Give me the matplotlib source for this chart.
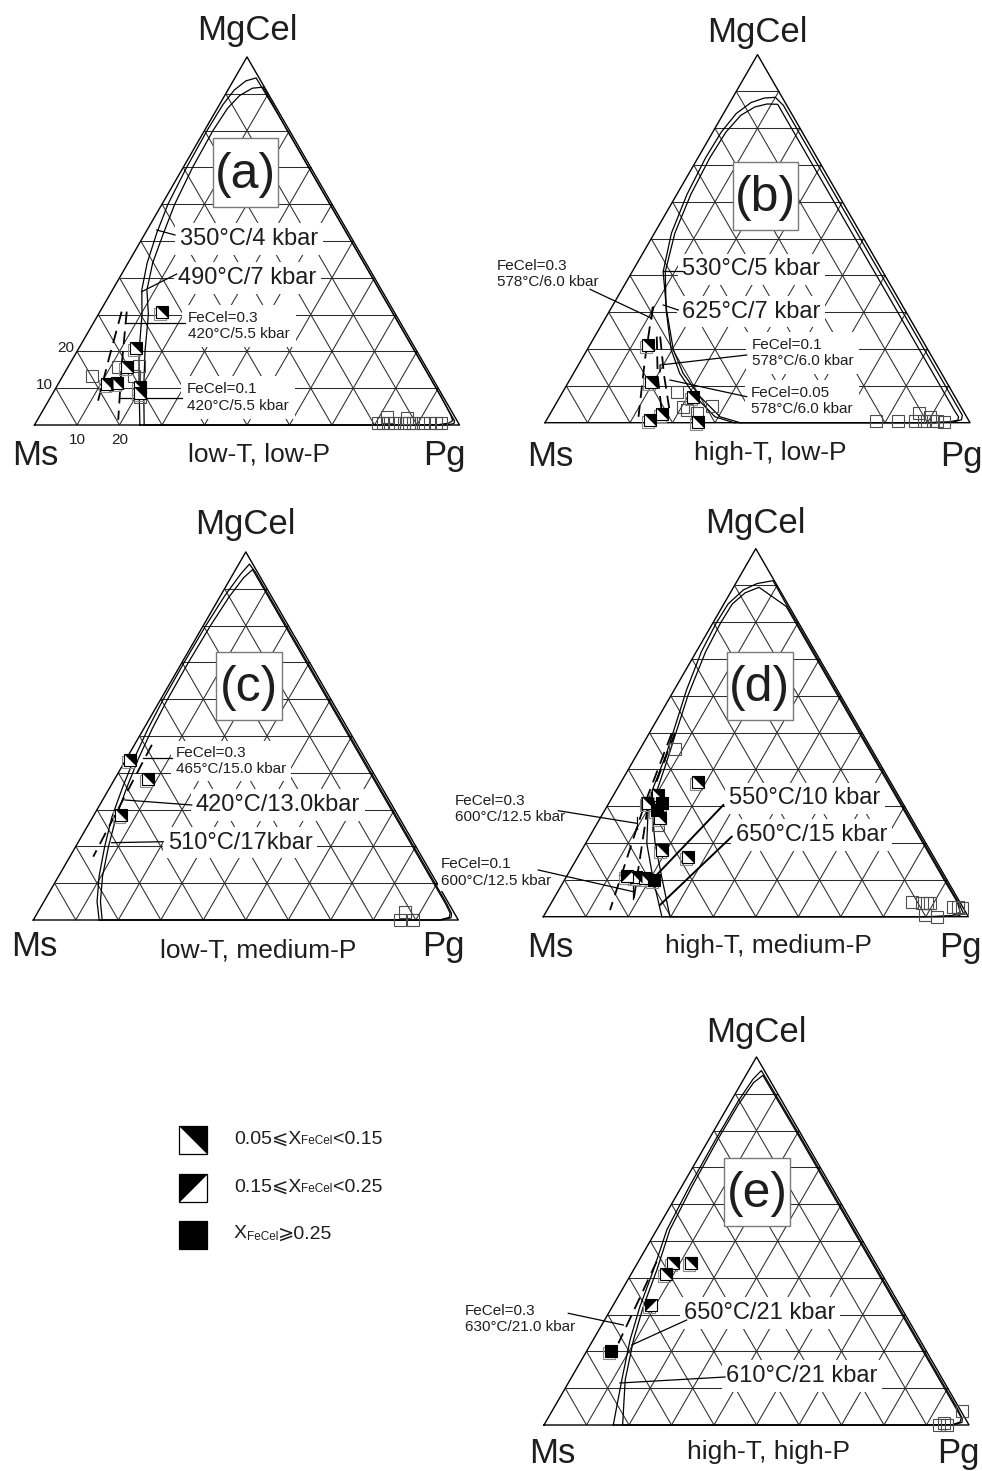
import numpy as np
import matplotlib
matplotlib.use("Agg")
import matplotlib.pyplot as plt
from matplotlib.transforms import Affine2D, offset_copy
from matplotlib.path import Path
from matplotlib.patches import Rectangle

plt.rcParams['font.family'] = ['Liberation Sans', 'DejaVu Sans']
INK = '#1e1e1e'

# ---------------------------------------------------------------------------
# Compositions are given as (Pg fraction, MgCel fraction); Ms = 1 - Pg - MgCel
# ---------------------------------------------------------------------------

# (a) low-T, low-P
a_sv1_pg = [.248, .196, .146, .103, .069, .045, .027, .014, .008, .006, .008, .015, .030, .050,
            .150, .350, .550, .750, .900, .962, .982, .985, .970, .920, .600, .248]
a_sv1_mg = [0, .10, .20, .30, .367, .44, .521, .60, .70, .80, .87, .91, .935, .943,
            .845, .645, .445, .245, .095, .032, .012, .004, 0, 0, 0, 0]
a_sv2_pg = [.258, .207, .160, .118, .081, .058, .043, .030, .022, .020, .024, .035, .055, .079,
            .180, .380, .580, .780, .920, .965, .978, .972, .950, .900, .258]
a_sv2_mg = [0, .10, .20, .30, .367, .44, .521, .60, .70, .80, .86, .895, .915, .918,
            .815, .615, .415, .215, .075, .028, .012, .005, .001, 0, 0]
a_fe03_pg = [.051, .085, .121]
a_fe03_mg = [.308, .180, .050]
a_fe01_pg = [.063, .125, .190]
a_fe01_mg = [.308, .160, .014]
a_t1_pg = [.145, .134, .138, .114, .137, .196, .205]
a_t1_mg = [.308, .210, .157, .111, .113, .104, .086]
a_open_pg = [.119, .165, .167, .068, .210, .805, .817, .829, .844, .868, .879, .887, .911, .927, .942, .954, .817, .867]
a_open_mg = [.157, .161, .134, .134, .077, .005, .005, .005, .005, .005, .005, .005, .005, .005, .005, .005, .023, .018]

# (b) high-T, low-P
b_sv1_pg = [.459, .404, .329, .258, .203, .133, .073, .040, .024, .018, .020, .030, .050, .075, .100, .130,
            .300, .500, .700, .880, .950, .972, .976, .960, .900, .459]
b_sv1_mg = [0, .016, .071, .134, .198, .306, .41, .515, .62, .72, .79, .84, .87, .882, .884, .862,
            .692, .492, .292, .112, .042, .020, .008, .002, 0, 0]
b_sv2_pg = [.445, .392, .318, .250, .198, .132, .078, .048, .033, .028, .031, .043, .065, .090, .115,
            .300, .500, .700, .880, .945, .965, .968, .950, .900, .445]
b_sv2_mg = [0, .016, .071, .134, .198, .306, .41, .515, .62, .72, .79, .835, .858, .866, .865,
            .680, .480, .280, .100, .035, .016, .007, .002, 0, 0]
b_fe03_pg = [.096, .150, .212]
b_fe03_mg = [.315, .170, .016]
b_fe01_pg = [.146, .200, .262]
b_fe01_mg = [.234, .130, .026]
b_fe005_pg = [.154, .215, .281]
b_fe005_mg = [.234, .130, .026]
b_t1_pg = [.136, .194, .243, .263, .313, .359]
b_t1_mg = [.211, .111, .007, .024, .071, .003]
b_open_pg = [.269, .304, .316, .369, .344, .776, .828, .867, .866, .890, .898, .910, .921, .937]
b_open_mg = [.084, .043, .035, .046, .026, .005, .005, .005, .026, .005, .016, .005, .005, .003]

# (c) low-T, medium-P
c_sv1_pg = [.155, .125, .095, .068, .045, .030, .018, .010, .006, .005, .006, .010, .018, .025,
            .050, .200, .400, .600, .800, .950, .975, .980, .960, .155]
c_sv1_mg = [0, .05, .12, .20, .28, .36, .44, .52, .60, .70, .80, .88, .94, .967,
            .945, .795, .595, .395, .195, .045, .018, .006, 0, 0]
c_sv2_pg = [.162, .133, .103, .077, .055, .040, .028, .020, .016, .015, .017, .022, .030, .040,
            .200, .400, .600, .800, .950, .972, .975, .955, .162]
c_sv2_mg = [0, .05, .12, .20, .28, .36, .44, .52, .60, .70, .80, .88, .93, .952,
            .792, .592, .392, .192, .042, .018, .007, 0, 0]
c_fe03_pg = [.041, .048, .055]
c_fe03_mg = [.476, .320, .172]
c_t1_pg = [.010, .078, .065]
c_t1_mg = [.435, .382, .285]
c_open_pg = [.863, .863, .894]
c_open_mg = [.0226, 0, 0]

# (d) high-T, medium-P
d_sv1_pg = [.279, .209, .144, .089, .068, .029, .012, .008, .010, .027, .050, .084,
            .150, .350, .550, .750, .900, .960, .984, .975, .930, .279]
d_sv1_mg = [0, .0997, .199, .317, .444, .616, .72, .80, .85, .888, .905, .913,
            .846, .646, .446, .246, .096, .036, .009, .002, 0, 0]
d_sv2_pg = [.298, .230, .163, .105, .080, .040, .022, .018, .020, .035, .060,
            .150, .350, .550, .750, .900, .955, .975, .960, .900, .298]
d_sv2_mg = [0, .10, .20, .30, .42, .60, .72, .80, .85, .88, .895,
            .843, .643, .443, .243, .093, .039, .012, .003, 0, 0]
d_fe03_pg = [.053, .085, .148]
d_fe03_mg = [.498, .308, .018]
d_fe01_pg = [.060, .093, .190]
d_fe01_mg = [.500, .308, .045]
d_t1_pg = [.093, .106, .141, .181, .188, .260, .164, .186]
d_t1_mg = [.308, .330, .267, .367, .181, .163, .107, .105]
d_t2_pg = [.141]
d_t2_mg = [.111]
d_bk_pg = [.125, .122, .210]
d_bk_mg = [.308, .290, .100]
d_open_pg = [.082, .145, .089, .846, .871, .884, .891, .895, .926, .951, .963, .973]
d_open_mg = [.455, .250, .308, .041, .038, .036, .038, .005, 0, .027, .027, .023]

# (e) high-T, high-P
e_sv1_pg = [.163, .122, .087, .065, .047, .024, .018, .016, .017, .022, .030,
            .200, .400, .600, .800, .950, .975, .980, .965, .900, .163]
e_sv1_mg = [0, .122, .231, .321, .421, .53, .65, .78, .88, .94, .963,
            .795, .595, .395, .195, .045, .018, .007, .001, 0, 0]
e_sv2_pg = [.185, .130, .095, .073, .055, .031, .024, .021, .022, .028, .040,
            .200, .400, .600, .800, .950, .972, .975, .960, .900, .185]
e_sv2_mg = [0, .122, .231, .321, .421, .53, .65, .78, .87, .93, .95,
            .792, .592, .392, .192, .042, .020, .008, .001, 0, 0]
e_fe03_pg = [.043, .054, .064]
e_fe03_mg = [.444, .330, .222]
e_t1_pg = [.085, .081, .126]
e_t1_mg = [.439, .410, .440]
e_t2_pg = [.088]
e_t2_mg = [.326]
e_bk_pg = [.056]
e_bk_mg = [.202]
e_open_pg = [.126, .929, .938, .948, .964]
e_open_mg = [.440, 0, .005, 0, .038]

# ---------------------------------------------------------------------------
fig = plt.figure(figsize=(9.82, 14.71), dpi=100)
ax = fig.add_axes([0, 0, 1, 1])
ax.set_xlim(0, 982)
ax.set_ylim(1471, 0)
ax.axis('off')

SIDE = 425.0
HEIGHT = SIDE * np.sqrt(3) / 2
MS = 9.0

TRI_UR = Path([(-1, 1), (1, 1), (1, -1), (-1, 1)], closed=True)   # black upper-right half
TRI_UL = Path([(-1, -1), (-1, 1), (1, 1), (-1, -1)], closed=True)  # black upper-left half


def ternary(left, base):
    return Affine2D.from_values(SIDE, 0, SIDE / 2, -HEIGHT, left, base) + ax.transData


def frame(tr):
    kw = dict(color='#2b2b2b', lw=0.75, transform=tr, zorder=1, solid_capstyle='butt')
    for k in range(1, 10):
        f = k / 10
        ax.plot([0, 1 - f], [f, f], **kw)
        ax.plot([f, f], [0, 1 - f], **kw)
        ax.plot([f, 0], [0, f], **kw)
    ax.plot([0, 1, 0, 0], [0, 0, 1, 0], color='black', lw=1.0, transform=tr, zorder=1)


def curve(tr, pg, mg, dashed=False):
    if dashed:
        ax.plot(pg, mg, color='black', lw=1.3, dashes=(7, 4), transform=tr, zorder=3)
    else:
        ax.plot(pg, mg, color='black', lw=0.9, transform=tr, zorder=3)


def points(tr, pg, mg, kind, ms=MS):
    if kind == 'open':
        ax.plot(pg, mg, ls='none', marker='s', ms=ms, mfc='none', mec='#4d4d4d', mew=0.8,
                transform=tr, zorder=4)
        return
    ghost = offset_copy(tr, fig=fig, x=-2, y=-2, units='dots')
    ax.plot(pg, mg, ls='none', marker='s', ms=ms, mfc='none', mec='#8a8a8a', mew=0.8,
            transform=ghost, zorder=4)
    face = 'black' if kind == 'black' else 'white'
    ax.plot(pg, mg, ls='none', marker='s', ms=ms, mfc=face, mec='black', mew=0.8,
            transform=tr, zorder=5)
    if kind in ('t1', 't2'):
        ax.plot(pg, mg, ls='none', marker=TRI_UR if kind == 't1' else TRI_UL, ms=ms,
                mfc='black', mec='none', transform=tr, zorder=6)


def label(x, y, s, size, ha='center', pad=0.2, **kw):
    ax.text(x, y, s, fontsize=size, ha=ha, va='center', color=INK, zorder=2,
            bbox=dict(boxstyle=f'square,pad={pad}', fc='white', ec='none'), **kw)


def leader(xs, ys, lw=0.9):
    ax.plot(xs, ys, color='black', lw=lw, zorder=3)


panels = [
    dict(L=34.5, B=425.0, tag='(a)', sub='low-T, low-P', box=(213, 138, 65, 69),
         ms_dx=1, pg_dx=-15, corner_base=40, sub_base=36, top_base=17,
         curves=[(a_sv1_pg, a_sv1_mg), (a_sv2_pg, a_sv2_mg)],
         dashed=[(a_fe03_pg, a_fe03_mg), (a_fe01_pg, a_fe01_mg)],
         marks=[(a_open_pg, a_open_mg, 'open'), (a_t1_pg, a_t1_mg, 't1')]),
    dict(L=545.0, B=422.7, tag='(b)', sub='high-T, low-P', box=(732.7, 162.3, 65.6, 67.7),
         ms_dx=5, pg_dx=-9, corner_base=43, sub_base=37, top_base=13,
         curves=[(b_sv1_pg, b_sv1_mg), (b_sv2_pg, b_sv2_mg)],
         dashed=[(b_fe03_pg, b_fe03_mg), (b_fe01_pg, b_fe01_mg), (b_fe005_pg, b_fe005_mg)],
         marks=[(b_open_pg, b_open_mg, 'open'), (b_t1_pg, b_t1_mg, 't1')]),
    dict(L=33.3, B=920.0, tag='(c)', sub='low-T, medium-P', box=(216, 652.3, 65.7, 67.7),
         ms_dx=1, pg_dx=-15, corner_base=36, sub_base=37, top_base=18,
         curves=[(c_sv1_pg, c_sv1_mg), (c_sv2_pg, c_sv2_mg)],
         dashed=[(c_fe03_pg, c_fe03_mg)],
         marks=[(c_open_pg, c_open_mg, 'open'), (c_t1_pg, c_t1_mg, 't1')]),
    dict(L=543.3, B=916.7, tag='(d)', sub='high-T, medium-P', box=(726.7, 652.3, 66, 67.7),
         ms_dx=7, pg_dx=-8, corner_base=40, sub_base=36, top_base=16,
         curves=[(d_sv1_pg, d_sv1_mg), (d_sv2_pg, d_sv2_mg)],
         dashed=[(d_fe03_pg, d_fe03_mg), (d_fe01_pg, d_fe01_mg)],
         marks=[(d_open_pg, d_open_mg, 'open'), (d_t1_pg, d_t1_mg, 't1'),
                (d_t2_pg, d_t2_mg, 't2'), (d_bk_pg, d_bk_mg, 'black')]),
    dict(L=544.0, B=1425.0, tag='(e)', sub='high-T, high-P', box=(724, 1158, 66, 68),
         ms_dx=8, pg_dx=-11, corner_base=38, sub_base=34, top_base=15,
         curves=[(e_sv1_pg, e_sv1_mg), (e_sv2_pg, e_sv2_mg)],
         dashed=[(e_fe03_pg, e_fe03_mg)],
         marks=[(e_open_pg, e_open_mg, 'open'), (e_t1_pg, e_t1_mg, 't1'),
                (e_t2_pg, e_t2_mg, 't2'), (e_bk_pg, e_bk_mg, 'black')]),
]

for P in panels:
    L, B = P['L'], P['B']
    tr = ternary(L, B)
    frame(tr)
    for pg, mg in P['curves']:
        curve(tr, pg, mg)
    for pg, mg in P['dashed']:
        curve(tr, pg, mg, dashed=True)
    for pg, mg, kind in P['marks']:
        points(tr, pg, mg, kind)
    # corner names and subtitle
    ax.text(L + SIDE / 2, B - HEIGHT - P['top_base'], 'MgCel', fontsize=25, ha='center',
            va='baseline', color=INK)
    ax.text(L + P['ms_dx'], B + P['corner_base'], 'Ms', fontsize=25, ha='center',
            va='baseline', color=INK)
    ax.text(L + SIDE + P['pg_dx'], B + P['corner_base'], 'Pg', fontsize=25, ha='center',
            va='baseline', color=INK)
    ax.text(L + 225, B + P['sub_base'], P['sub'], fontsize=19, ha='center', va='baseline',
            color=INK)
    # panel tag in a framed box
    bx, by, bw, bh = P['box']
    ax.add_patch(Rectangle((bx, by), bw, bh, fc='white', ec='#7a7a7a', lw=1.0, zorder=2))
    ax.text(bx + bw / 2, by + bh / 2 + 2, P['tag'], fontsize=36, ha='center', va='center',
            color=INK, zorder=2.5)

# axis numbers on panel (a)
for v, yy in ((10, 385), (20, 348)):
    ax.text(34.5 + (425 - yy) * 0.5774 - 5, yy, str(v), fontsize=11, ha='right', va='center',
            color=INK)
for v, xx in ((10, 77), (20, 120)):
    ax.text(xx, 440, str(v), fontsize=11, ha='center', va='center', color=INK)

# P-T condition labels and leaders
label(249, 239, '350°C/4 kbar', 17)
label(247.5, 278, '490°C/7 kbar', 17)
label(188, 326, 'FeCel=0.3\n420°C/5.5 kbar', 11, ha='left', pad=0.4)
label(187, 397.5, 'FeCel=0.1\n420°C/5.5 kbar', 11, ha='left', pad=0.4)
leader([175, 156.7], [235, 230])
leader([176.7, 141.7], [274, 291.7])
leader([185, 125], [322.7, 322.7])
leader([181.7, 120], [398.3, 398.3])

label(751.5, 269.3, '530°C/5 kbar', 17)
label(751, 311.7, '625°C/7 kbar', 17)
label(497, 274, 'FeCel=0.3\n578°C/6.0 kbar', 11, ha='left', pad=0.3)
label(751.7, 353, 'FeCel=0.1\n578°C/6.0 kbar', 11, ha='left', pad=0.4)
label(751, 401, 'FeCel=0.05\n578°C/6.0 kbar', 11, ha='left', pad=0.4)
leader([681.7, 663.3], [270.7, 270.7])
leader([678.3, 663.3], [310, 305])
leader([590, 651.7], [289.3, 318.3])
leader([653.5, 651.5], [307, 319])
leader([746.7, 660, 660], [355, 365, 372])
leader([746.7, 670], [396.7, 380])

label(176, 761, 'FeCel=0.3\n465°C/15.0 kbar', 11, ha='left', pad=0.3)
label(278, 805, '420°C/13.0kbar', 17)
label(240, 842.7, '510°C/17kbar', 17)
leader([171.7, 143.3], [758.3, 758.3])
leader([191.7, 125], [805, 800])
leader([163.3, 111.7], [841.7, 842.7])

label(805, 798.3, '550°C/10 kbar', 17)
label(811.7, 835, '650°C/15 kbar', 17)
label(455, 809, 'FeCel=0.3\n600°C/12.5 kbar', 11, ha='left', pad=0.2)
label(441, 872.5, 'FeCel=0.1\n600°C/12.5 kbar', 11, ha='left', pad=0.2)
leader([723.3, 655], [805, 876.7], lw=1.4)
leader([731.7, 660], [836.7, 905], lw=1.4)
leader([558.3, 636.7], [810.7, 823.3])
leader([538.3, 633.3], [870, 891.7])
leader([633.3, 633.3], [885, 899])
leader([637, 637], [817, 829])

label(760, 1313, '650°C/21 kbar', 17)
label(802, 1376, '610°C/21 kbar', 17)
label(465, 1319, 'FeCel=0.3\n630°C/21.0 kbar', 11, ha='left', pad=0.2)
leader([568.3, 623.3], [1313.3, 1325])
leader([686.7, 631.7], [1320, 1345])
leader([725, 620], [1377, 1383])

# legend for Fe-celadonite content
legend_rows = [('t1', '0.05⩽X', '<0.15', 1139.5),
               ('t2', '0.15⩽X', '<0.25', 1187.5),
               ('black', 'X', '⩾0.25', 1234.5)]
for kind, head, tail, yy in legend_rows:
    face = 'black' if kind == 'black' else 'white'
    ax.plot([193], [yy], ls='none', marker='s', ms=19.5, mfc=face, mec='black', mew=0.9,
            zorder=5)
    if kind != 'black':
        ax.plot([193], [yy], ls='none', marker=TRI_UR if kind == 't1' else TRI_UL, ms=19.5,
                mfc='black', mec='none', zorder=6)
    t1 = ax.text(234, yy + 8, head, fontsize=14, ha='left', va='bottom', color=INK)
    t2 = ax.annotate('FeCel', xy=(1, 0), xycoords=t1, fontsize=8.5, ha='left', va='bottom',
                     color=INK)
    ax.annotate(tail, xy=(1, 0), xycoords=t2, fontsize=14, ha='left', va='bottom', color=INK)

fig.savefig('out.png', dpi=100)
